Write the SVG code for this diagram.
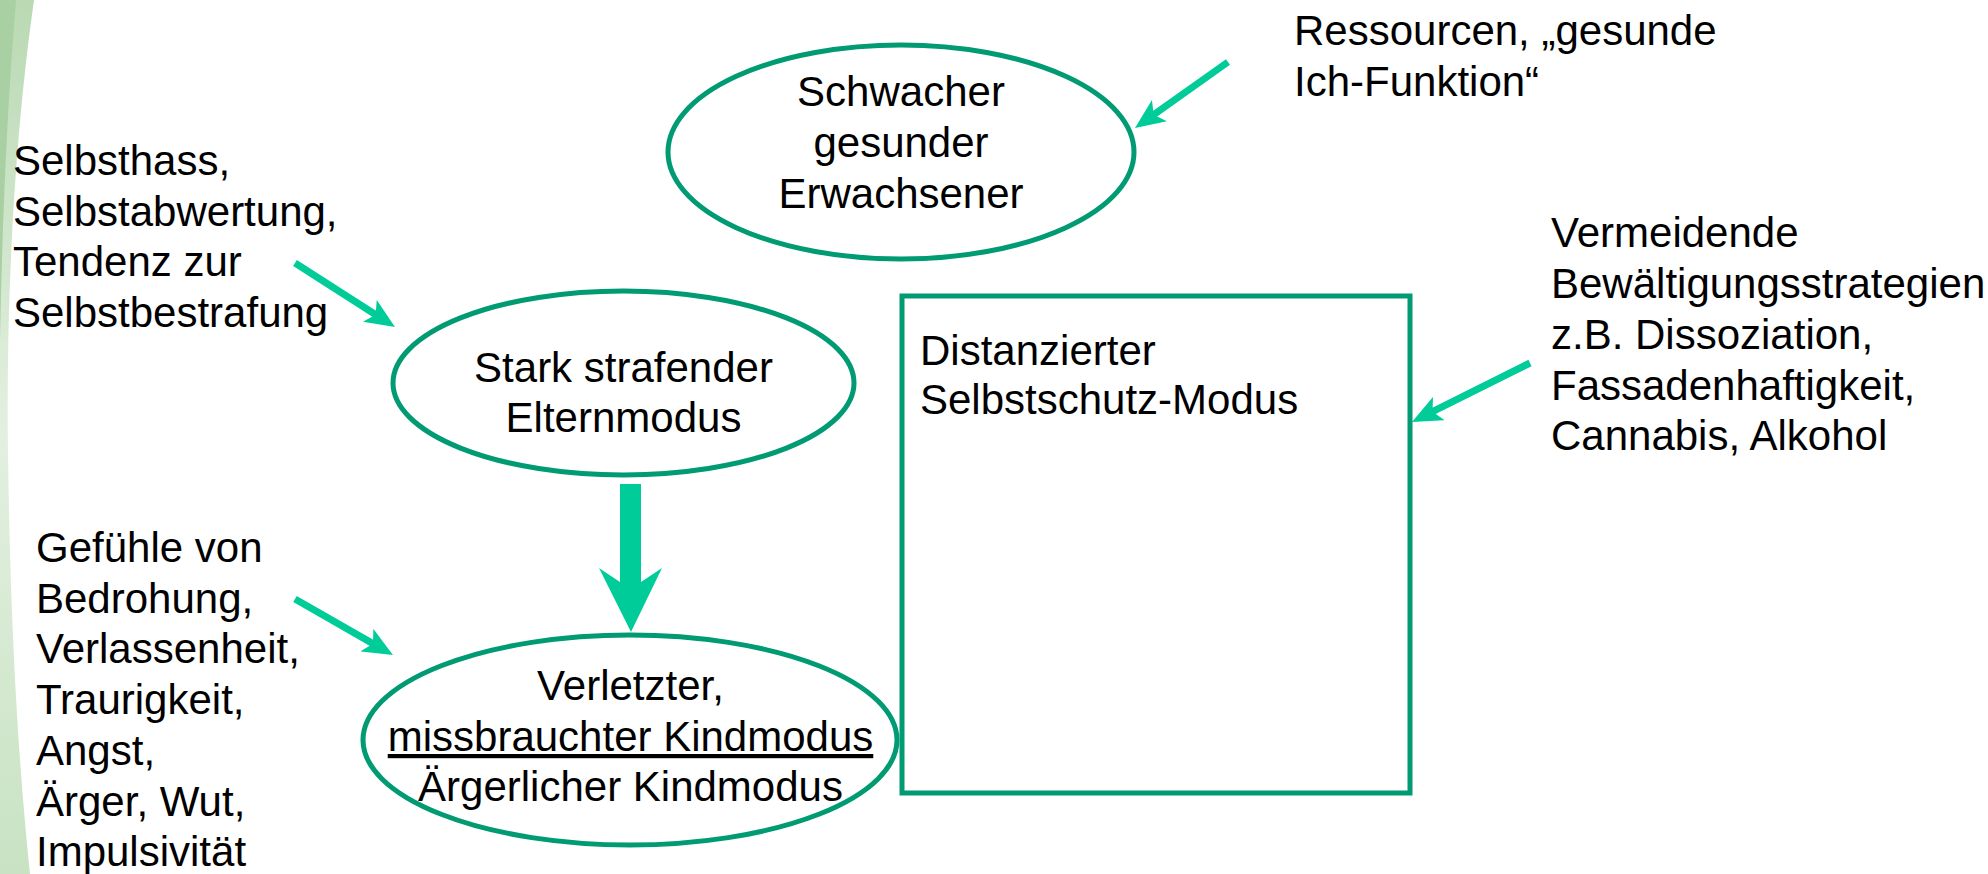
<svg xmlns="http://www.w3.org/2000/svg" width="1988" height="874" viewBox="0 0 1988 874">
  <style>
    text { font-family: "Liberation Sans", Arial, sans-serif; font-size: 42px; fill: #000; }
    .mid { text-anchor: middle; }
    .node { fill: #fff; stroke: #009A73; stroke-width: 5; }
    .conn { stroke: #00CC99; stroke-width: 7; fill: none; }
  </style>
  <defs>
    <linearGradient id="bgL" x1="0" y1="0" x2="0" y2="1">
      <stop offset="0" stop-color="#b9d9b3"/>
      <stop offset="0.5" stop-color="#e3f0e0"/>
      <stop offset="1" stop-color="#c8e2c3"/>
    </linearGradient>
    <marker id="arr" viewBox="0 0 30 26" markerWidth="30" markerHeight="26" refX="16" refY="13" orient="auto" markerUnits="userSpaceOnUse">
      <path d="M0,0 L30,13 L0,26 L7,13 Z" fill="#00CC99"/>
    </marker>
  </defs>
  <rect width="1988" height="874" fill="#fff"/>
  <g id="background">
    <path d="M0,0 L34,0 C14,140 6,300 8,450 C10,620 18,760 30,874 L0,874 Z" fill="url(#bgL)"/>
    <path d="M0,0 L16,0 C6,120 2,240 0,340 Z" fill="#a9d0a2"/>
  </g>

  <g id="connectors">
    <line class="conn" x1="295" y1="263" x2="383.2" y2="319.5" marker-end="url(#arr)"/>
    <line class="conn" x1="295" y1="599" x2="380.8" y2="648.1" marker-end="url(#arr)"/>
    <line class="conn" x1="1228" y1="62" x2="1146.4" y2="119.9" marker-end="url(#arr)"/>
    <line class="conn" x1="1530" y1="363" x2="1424.5" y2="415.7" marker-end="url(#arr)"/>
    <polygon id="big-arrow" points="620,484 641,484 641,582 662,568 631,632 599,568 620,582" fill="#00CC99"/>
  </g>

  <g id="node-erwachsener">
    <ellipse class="node" cx="901" cy="152" rx="233" ry="107"/>
    <text class="mid" x="901" y="106">Schwacher</text>
    <text class="mid" x="901" y="157">gesunder</text>
    <text class="mid" x="901" y="208">Erwachsener</text>
  </g>

  <g id="node-elternmodus">
    <ellipse class="node" cx="623.5" cy="383" rx="230.5" ry="92"/>
    <text class="mid" x="623.5" y="382">Stark strafender</text>
    <text class="mid" x="623.5" y="432">Elternmodus</text>
  </g>

  <g id="node-kindmodus">
    <ellipse class="node" cx="630" cy="740" rx="267" ry="105"/>
    <text class="mid" x="630.5" y="700">Verletzter,</text>
    <text class="mid" x="630.5" y="751" text-decoration="underline">missbrauchter Kindmodus</text>
    <text class="mid" x="630.5" y="801">Ärgerlicher Kindmodus</text>
  </g>

  <g id="node-selbstschutz">
    <rect class="node" x="902" y="296" width="508" height="497"/>
    <text x="920" y="365">Distanzierter</text>
    <text x="920" y="414">Selbstschutz-Modus</text>
  </g>

  <g id="label-selbsthass">
    <text x="13" y="175">Selbsthass,</text>
    <text x="13" y="225.7">Selbstabwertung,</text>
    <text x="13" y="276.4">Tendenz zur</text>
    <text x="13" y="327">Selbstbestrafung</text>
  </g>

  <g id="label-gefuehle">
    <text x="36" y="562">Gefühle von</text>
    <text x="36" y="612.7">Bedrohung,</text>
    <text x="36" y="663.4">Verlassenheit,</text>
    <text x="36" y="714">Traurigkeit,</text>
    <text x="36" y="764.8">Angst,</text>
    <text x="36" y="815.5">Ärger, Wut,</text>
    <text x="36" y="866.2">Impulsivität</text>
  </g>

  <g id="label-ressourcen">
    <text x="1294" y="45">Ressourcen, „gesunde</text>
    <text x="1294" y="96">Ich-Funktion“</text>
  </g>

  <g id="label-vermeidende">
    <text x="1551" y="247">Vermeidende</text>
    <text x="1551" y="298">Bewältigungsstrategien</text>
    <text x="1551" y="348.5">z.B. Dissoziation,</text>
    <text x="1551" y="399.5">Fassadenhaftigkeit,</text>
    <text x="1551" y="450">Cannabis, Alkohol</text>
  </g>
</svg>
